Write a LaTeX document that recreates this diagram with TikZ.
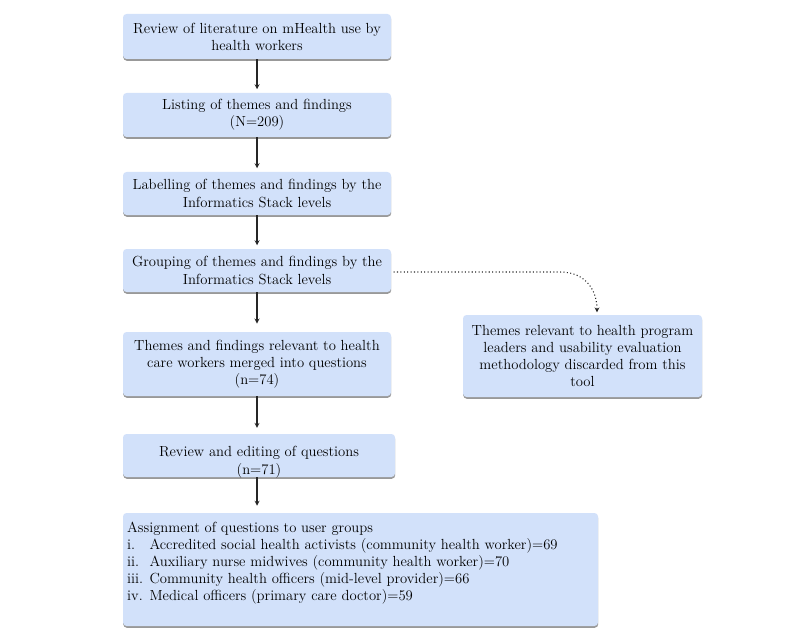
\documentclass[tikz,border=0pt]{standalone}
\usepackage{tikz}
\usetikzlibrary{calc}
\usetikzlibrary{shadows}
\usepackage{xcolor}
\definecolor{boxBlue}{RGB}{210,225,250}
\definecolor{shadowGray}{RGB}{135,135,135}
\tikzset{
  stepbox/.style={
    fill=boxBlue, rounded corners=3pt, inner sep=0pt,
    minimum width=8.04cm, align=center,
    font=\fontsize{12.5}{14.6}\selectfont,
    drop shadow={shadow xshift=0.2pt, shadow yshift=-1.5pt, fill=shadowGray, opacity=0.85}
  },
  boxtext/.style={font=\fontsize{12.5}{14.6}\selectfont},
  flowarrow/.style={line width=0.9pt, draw=black!85, -stealth, shorten >=3pt},
  skiparrow/.style={line width=0.9pt, draw=black!85, dotted, -stealth, shorten <=2pt, shorten >=2pt},
}

\begin{document}
\begin{tikzpicture}

%%%%%%%%%%%%%%%%%%%%%%%%%%%%%%%%%%%%%%%%%%%%%%%%%%%%%%%%%%%%%% Setup
\coordinate (C) at (0, 0);
% just to have nice boundaries to the picture
\useasboundingbox ($(C)+(0,0)$) rectangle ($(C)+(24,-19.29)$);

%%%%%%%%%%%%%%%%%%%%%%%%%%%%%%%%%%%%%%%%%%%%%%%%%%%%%%%%%%%%%% Main column
\node[stepbox, minimum height=1.35cm] (review) at ($(C)+(7.71,-1.095)$)
  {Review of literature on mHealth use by\\health workers};
\node[stepbox, minimum height=1.32cm] (listing) at ($(C)+(7.71,-3.45)$)
  {Listing of themes and findings\\(N=209)};
\node[stepbox, minimum height=1.29cm] (label) at ($(C)+(7.71,-5.805)$)
  {Labelling of themes and findings by the\\Informatics Stack levels};
\node[stepbox, minimum height=1.29cm] (group) at ($(C)+(7.71,-8.115)$)
  {Grouping of themes and findings by the\\Informatics Stack levels};
\node[stepbox, minimum height=1.92cm] (merge) at ($(C)+(7.71,-10.92)$)
  {Themes and findings relevant to health\\care workers merged into questions\\(n=74)};

% text sits low in this one
\node[stepbox, minimum width=8.16cm, minimum height=1.29cm] (edit) at ($(C)+(7.77,-13.665)$) {};
\node[boxtext, align=center] (edittext) at ($(edit.center)+(0,-0.2)$)
  {Review and editing of questions\\(n=71)};

%%%%%%%%%%%%%%%%%%%%%%%%%%%%%%%%%%%%%%%%%%%%%%%%%%%%%%%%%%%%%% Side box
\node[stepbox, minimum width=7.17cm, minimum height=2.46cm] (discard) at ($(C)+(17.475,-10.68)$)
  {Themes relevant to health program\\leaders and usability evaluation\\methodology discarded from this\\tool};

%%%%%%%%%%%%%%%%%%%%%%%%%%%%%%%%%%%%%%%%%%%%%%%%%%%%%%%%%%%%%% User groups
\node[stepbox, minimum width=14.25cm, minimum height=3.39cm] (assign) at ($(C)+(10.815,-17.085)$) {};
\node[boxtext, anchor=north west, align=left] (assigntext) at ($(assign.north west)+(0.01,-0.15)$)
  {Assignment of questions to user groups\\
   \makebox[19pt][l]{i.}Accredited social health activists (community health worker)=69\\
   \makebox[19pt][l]{ii.}Auxiliary nurse midwives (community health worker)=70\\
   \makebox[19pt][l]{iii.}Community health officers (mid-level provider)=66\\
   \makebox[19pt][l]{iv.}Medical officers (primary care doctor)=59};

%%%%%%%%%%%%%%%%%%%%%%%%%%%%%%%%%%%%%%%%%%%%%%%%%%%%%%%%%%%%%% Arrows
\draw[flowarrow] (review) -- (listing);
\draw[flowarrow] (listing) -- (label);
\draw[flowarrow] (label) -- (group);
\draw[flowarrow, shorten >=7pt] (group) -- (merge);
\draw[flowarrow, shorten >=5pt] (merge.south) -- (merge.south |- edit.north);
\draw[flowarrow, shorten >=6pt] (merge.south |- edit.south) -- (merge.south |- assign.north);

% dotted branch to the side box
\coordinate (bend) at ($(C)+(16.8,-8.16)$);
\coordinate (drop) at ($(discard.north)+(0.435,0)$);
\draw[skiparrow] (group.east |- bend) -- (bend) .. controls ($(bend)+(0.8,0)$) and ($(drop)+(0,0.7)$) .. (drop);

\end{tikzpicture}
\end{document}
